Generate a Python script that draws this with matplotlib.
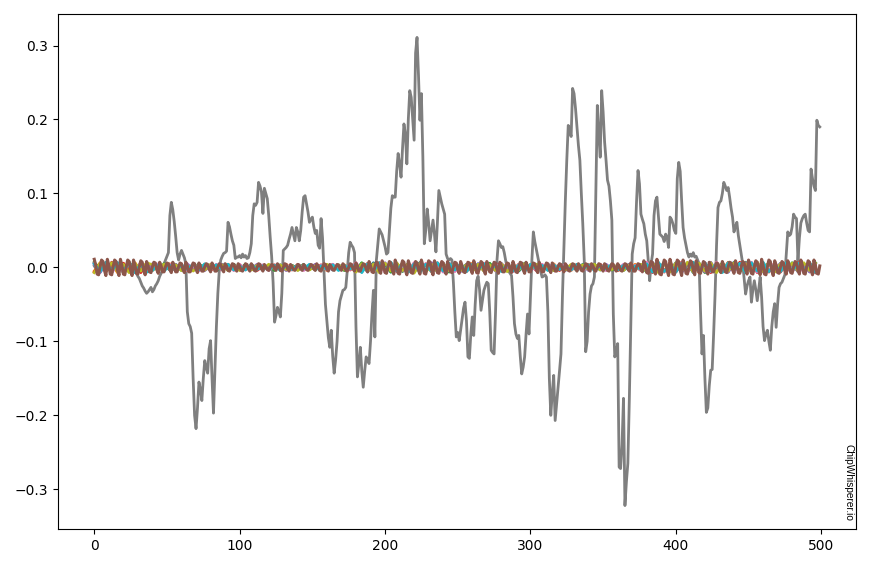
import numpy as np
import matplotlib
matplotlib.use("Agg")
import matplotlib.pyplot as plt

# Correct-key correlation trace (x1000), one value per sample 0..499
gray_vals = [
    2,-1,3,0,-2,1,3,-1,0,2,
    -3,-1,1,2,0,2,-2,0,1,-1,
    -2,0,2,-1,-3,0,-2,-4,-5,-8,
    -12,-15,-20,-25,-28,-32,-35,-33,-30,-27,
    -33,-30,-25,-22,-18,-12,-8,-2,5,10,
    15,20,70,88,78,62,42,20,10,18,
    23,18,13,5,-60,-76,-80,-89,-150,-200,
    -218,-190,-155,-165,-180,-150,-126,-135,-143,-110,
    -99,-150,-197,-140,-80,-35,-4,10,15,19,
    20,22,61,55,45,36,30,12,14,14,
    16,13,18,14,16,12,13,20,32,70,
    86,84,88,115,110,102,73,107,100,93,
    70,41,15,-20,-74,-65,-54,-60,-67,-35,
    23,25,27,30,38,45,54,45,36,54,
    48,36,50,75,95,97,86,75,61,65,
    68,55,46,50,30,26,66,40,-4,-50,
    -72,-95,-108,-85,-120,-143,-125,-100,-60,-45,
    -38,-31,-30,-27,-5,20,34,30,27,20,
    -80,-148,-130,-108,-140,-162,-140,-121,-125,-130,
    -100,-63,-31,-94,9,30,52,48,44,36,
    28,18,20,50,80,97,95,95,130,154,
    140,122,160,194,180,140,200,239,230,200,
    172,290,311,260,199,235,150,32,50,79,
    60,36,50,64,45,21,60,104,95,86,
    79,72,18,12,10,12,10,-20,-60,-94,
    -88,-99,-85,-70,-55,-47,-72,-121,-123,-90,
    -67,-92,-50,-18,-12,-30,-58,-45,-31,-25,
    -20,-22,-60,-112,-115,-117,-60,10,36,32,
    27,28,20,9,0,-5,-8,-11,-40,-76,
    -90,-96,-92,-120,-144,-135,-121,-90,-63,-90,
    -40,10,48,35,25,15,5,-5,-13,-12,
    -10,-13,-60,-150,-200,-170,-146,-207,-185,-162,
    -140,-117,-40,25,90,145,192,185,177,242,
    235,215,190,165,145,100,59,10,-114,-100,
    -60,-36,-25,-22,-13,100,219,180,149,239,
    210,170,145,118,110,90,64,-63,-121,-115,
    -103,-270,-272,-240,-177,-322,-290,-265,-180,-80,
    18,32,40,90,131,113,72,65,59,45,
    36,10,-18,5,18,70,90,95,70,45,
    43,41,35,45,41,27,68,65,59,50,
    46,120,142,130,90,54,40,30,20,14,
    18,15,20,14,15,10,5,-60,-117,-92,
    -150,-196,-190,-160,-139,-138,-90,-36,30,81,
    88,90,100,115,110,104,108,95,80,68,
    48,55,61,43,30,18,5,-15,-36,-25,
    -18,-13,-47,-30,-18,-30,-45,-30,-13,-40,
    -80,-99,-90,-85,-100,-112,-80,-60,-49,-81,
    -50,-27,-22,-20,-15,-10,20,48,43,45,
    55,72,68,66,9,40,60,66,70,72,
    60,50,48,133,120,110,104,199,192,190,
]

# Top-most (last drawn) wrong-key trace (x1000), one value per sample
brown_vals = [
    11,3,-9,-10,1,10,8,-4,-11,
    11,3,-9,-10,1,10,8,-4,-11,
    11,3,-9,-10,1,10,8,-4,-11,
    10,3,-8,-9,1,9,7,-4,-10,
    8,2,-6,-7,1,7,6,-3,-8,
    7,2,-6,-6,1,6,5,-3,-7,
    7,2,-6,-6,1,6,5,-3,-7,
    7,2,-6,-6,1,6,5,-3,-7,
    6,2,-5,-5,1,5,4,-2,-6,
    6,2,-5,-5,1,5,4,-2,-6,
    5,2,-4,-5,0,5,4,-2,-5,
    5,2,-4,-5,0,5,4,-2,-5,
    5,2,-4,-5,0,5,4,-2,-5,
    4,1,-3,-4,0,4,3,-2,-4,
    5,2,-4,-5,0,5,4,-2,-5,
    4,1,-3,-4,0,4,3,-2,-4,
    4,1,-3,-4,0,4,3,-2,-4,
    5,2,-4,-5,0,5,4,-2,-5,
    4,1,-3,-4,0,4,3,-2,-4,
    5,2,-4,-5,0,5,4,-2,-5,
    6,2,-5,-5,1,5,4,-2,-6,
    8,2,-6,-7,1,7,6,-3,-8,
    9,3,-7,-8,1,8,6,-4,-9,
    10,3,-8,-9,1,9,7,-4,-10,
    9,3,-7,-8,1,8,6,-4,-9,
    10,3,-8,-9,1,9,7,-4,-10,
    9,3,-7,-8,1,8,6,-4,-9,
    8,2,-6,-7,1,7,6,-3,-8,
    8,2,-6,-7,1,7,6,-3,-8,
    9,3,-7,-8,1,8,6,-4,-9,
    8,2,-6,-7,1,7,6,-3,-8,
    7,2,-6,-6,1,6,5,-3,-7,
    8,2,-6,-7,1,7,6,-3,-8,
    7,2,-6,-6,1,6,5,-3,-7,
    7,2,-6,-6,1,6,5,-3,-7,
    6,2,-5,-5,1,5,4,-2,-6,
    5,2,-4,-5,0,5,4,-2,-5,
    5,2,-4,-5,0,5,4,-2,-5,
    5,2,-4,-5,0,5,4,-2,-5,
    5,2,-4,-5,0,5,4,-2,-5,
    5,2,-4,-5,0,5,4,-2,-5,
    6,2,-5,-5,1,5,4,-2,-6,
    9,3,-7,-8,1,8,6,-4,-9,
    11,3,-9,-10,1,10,8,-4,-11,
    11,3,-9,-10,1,10,8,-4,-11,
    10,3,-8,-9,1,9,7,-4,-10,
    9,3,-7,-8,1,8,6,-4,-9,
    7,2,-6,-6,1,6,5,-3,-7,
    8,2,-6,-7,1,7,6,-3,-8,
    9,3,-7,-8,1,8,6,-4,-9,
    10,3,-8,-9,1,9,7,-4,-10,
    11,3,-9,-10,1,10,8,-4,-11,
    9,3,-7,-8,1,8,6,-4,-9,
    9,3,-7,-8,1,8,6,-4,-9,
    10,3,-8,-9,1,9,7,-4,-10,
    10,3,-8,-9,2,
]

# Other wrong-key traces (x0.0007), sampled every 4 samples
blue_vals = [8,-9,6,-10,9,-7,10,-8,5,-9,
    5,-6,4,-5,6,-4,3,-6,5,-5,4,-6,6,-3,5,
    -4,5,-3,4,-5,3,-4,5,-2,4,-5,3,-4,2,-5,4,-3,5,-4,3,
    -7,8,-6,9,-8,6,-9,7,-5,8,-7,9,-6,7,-8,6,-7,
    6,-7,5,-6,7,-5,6,-4,7,-6,5,-7,6,
    -4,5,-3,6,-4,5,-5,3,-4,6,-3,4,-5,5,-4,3,-6,4,-3,5,
    -8,9,-7,10,-8,7,-9,8,-10,7,-8,9,-7,8,-9,10,-8,7,-9,8,-7,9,
    -7,8,-6,7,-8,6,-7,8]
orange_vals = [-7,9,-8,7,-10,8,-6,9,-9,7,
    -6,4,-5,7,-4,5,-6,3,-5,6,-4,5,-3,6,-5,
    5,-4,6,-3,4,-5,3,-4,6,-3,5,-4,3,-5,4,-6,3,-4,5,-3,
    8,-7,6,-9,7,-8,5,-7,9,-6,8,-7,6,-9,7,-8,6,
    -7,6,-5,8,-6,5,-7,6,-4,7,-5,6,-7,
    6,-4,5,-3,7,-5,4,-6,5,-3,6,-4,5,-5,4,-6,3,-5,6,-4,
    9,-8,7,-9,10,-7,8,-9,7,-10,8,-7,9,-8,10,-7,8,-9,7,-8,9,-7,
    8,-7,6,-8,7,-6,8,-7]
green_vals = [10,-6,8,-9,7,-10,9,-7,8,-6,
    6,-5,7,-4,5,-6,4,-5,7,-3,5,-6,4,-5,6,
    -3,6,-4,5,-3,4,-6,3,-5,4,-3,6,-4,5,-3,4,-5,3,-6,4,
    -6,9,-7,8,-6,7,-9,6,-8,7,-6,9,-8,6,-7,8,-9,
    7,-5,6,-7,5,-6,8,-5,6,-7,4,-6,8,
    -5,6,-4,5,-6,3,-5,4,-6,5,-3,6,-4,5,-5,4,-3,6,-5,4,
    -9,7,-8,10,-7,9,-8,7,-9,8,-10,7,-8,9,-7,8,-9,10,-7,8,-8,10,
    -8,6,-7,9,-6,7,-8,9]
red_vals = [-9,7,-8,10,-6,8,-9,7,-10,8,
    -5,6,-4,5,-7,4,-5,6,-3,5,-6,4,-5,6,-4,
    4,-3,5,-6,3,-4,5,-3,4,-5,6,-3,4,-4,5,-3,6,-4,3,-5,
    7,-9,8,-6,9,-7,6,-8,7,-9,6,-8,7,-6,9,-7,8,
    -6,7,-8,5,-6,7,-5,8,-6,5,-7,6,-5,
    5,-6,4,-5,3,-6,5,-4,6,-5,4,-3,6,-4,5,-6,4,-5,3,-6,
    8,-10,9,-7,8,-9,10,-8,7,-9,8,-10,7,-8,9,-7,10,-8,9,-10,7,-9,
    7,-9,8,-6,9,-7,8,-10]
purple_vals = [6,-10,9,-8,7,-9,8,-10,9,-7,
    7,-6,5,-4,6,-5,7,-4,5,-6,3,-5,6,-4,5,
    -5,4,-3,6,-4,5,-3,4,-6,3,-4,5,-3,6,-4,3,-5,4,-3,6,
    -8,6,-9,7,-8,9,-6,8,-7,6,-9,8,-7,9,-6,8,-7,
    5,-8,6,-5,7,-6,5,-7,8,-5,6,-4,7,
    -6,4,-5,6,-3,5,-6,4,-5,3,-6,5,-4,6,-3,5,-4,6,-5,3,
    -7,10,-8,9,-7,8,-10,9,-8,7,-9,10,-8,7,-9,8,-7,9,-10,8,-9,7,
    -6,8,-9,7,-8,6,-9,7]
pink_vals = [8,-7,9,-10,6,-8,7,-9,10,-6,
    -4,7,-5,6,-3,5,-6,4,-7,5,-4,6,-5,3,-6,
    6,-5,4,-3,5,-6,4,-3,5,-4,3,-6,5,-3,4,-5,6,-4,3,-4,
    9,-6,7,-8,6,-9,8,-7,6,-8,9,-6,7,-8,6,-9,7,
    -8,6,-7,5,-6,8,-5,7,-6,5,-8,6,-6,
    4,-5,6,-4,5,-3,6,-5,4,-6,5,-4,3,-6,5,-4,6,-3,4,-5,
    10,-7,8,-9,7,-8,9,-10,8,-7,9,-8,10,-7,8,-9,7,-8,10,-9,8,-7,
    9,-6,7,-8,6,-9,7,-6]
olive_vals = [-10,8,-7,9,-8,6,-10,8,-7,9,
    5,-7,6,-4,5,-6,3,-7,4,-5,6,-3,5,-6,4,
    -6,3,-5,4,-4,6,-3,5,-4,3,-6,4,-5,3,-4,6,-3,5,-4,3,
    -9,7,-8,6,-10,8,-7,9,-6,8,-11,7,-9,6,-8,7,-6,
    8,-6,5,-8,6,-7,5,-6,7,-8,6,-5,7,
    -4,6,-5,3,-6,4,-5,6,-3,5,-4,6,-5,3,-4,5,-6,4,-5,6,
    -8,9,-10,7,-9,8,-7,10,-9,8,-7,9,-10,8,-7,9,-8,7,-9,10,-8,9,
    -9,7,-6,8,-7,9,-6,8]
cyan_vals = [7,-8,10,-7,9,-6,8,-10,7,-9,
    -6,5,-7,4,-6,5,-4,6,-5,7,-3,5,-4,6,-5,
    3,-5,6,-4,3,-5,4,-6,3,-4,5,-3,6,-5,3,-4,5,-6,4,-3,
    6,-10,7,-8,9,-6,10,-7,8,-9,7,-10,6,-8,9,-7,8,
    -5,7,-8,6,-5,7,-6,5,-8,6,-7,5,-8,
    6,-3,4,-6,5,-4,3,-5,6,-4,5,-6,4,-3,6,-5,4,-6,3,-4,
    7,-9,10,-8,7,-9,8,-7,10,-8,9,-7,8,-10,9,-7,8,-10,9,-7,10,-8,
    6,-8,9,-7,8,-6,9,-9]

others = [
    (blue_vals, "#1f77b4"),
    (orange_vals, "#ff7f0e"),
    (green_vals, "#2ca02c"),
    (red_vals, "#d62728"),
    (purple_vals, "#9467bd"),
    (pink_vals, "#e377c2"),
    (olive_vals, "#bcbd22"),
    (cyan_vals, "#17becf"),
]
OTHER_UNIT = 0.0007

fig = plt.figure(figsize=(8.72, 5.71), dpi=100)
ax = fig.add_axes([0.0665, 0.0736, 0.9152, 0.9019])

g = np.array(gray_vals) / 1000.0
ax.plot(np.arange(len(g)), g, color="#7f7f7f", lw=2)

for vals, c in others:
    v = np.array(vals) * OTHER_UNIT
    ax.plot(np.arange(len(v)) * 4, v, color=c, lw=2)

b = np.array(brown_vals) / 1000.0
ax.plot(np.arange(len(b)), b, color="#8c564b", lw=2.2)

ax.set_yticks([-0.3, -0.2, -0.1, 0.0, 0.1, 0.2, 0.3])
ax.set_xticks([0, 100, 200, 300, 400, 500])
ax.tick_params(labelsize=10)

ax.text(0.991, 0.015, "ChipWhisperer.io", transform=ax.transAxes,
        rotation=-90, fontsize=7.3, ha="center", va="bottom",
        family=["Liberation Sans", "DejaVu Sans"])

fig.savefig("out.png", dpi=100)
